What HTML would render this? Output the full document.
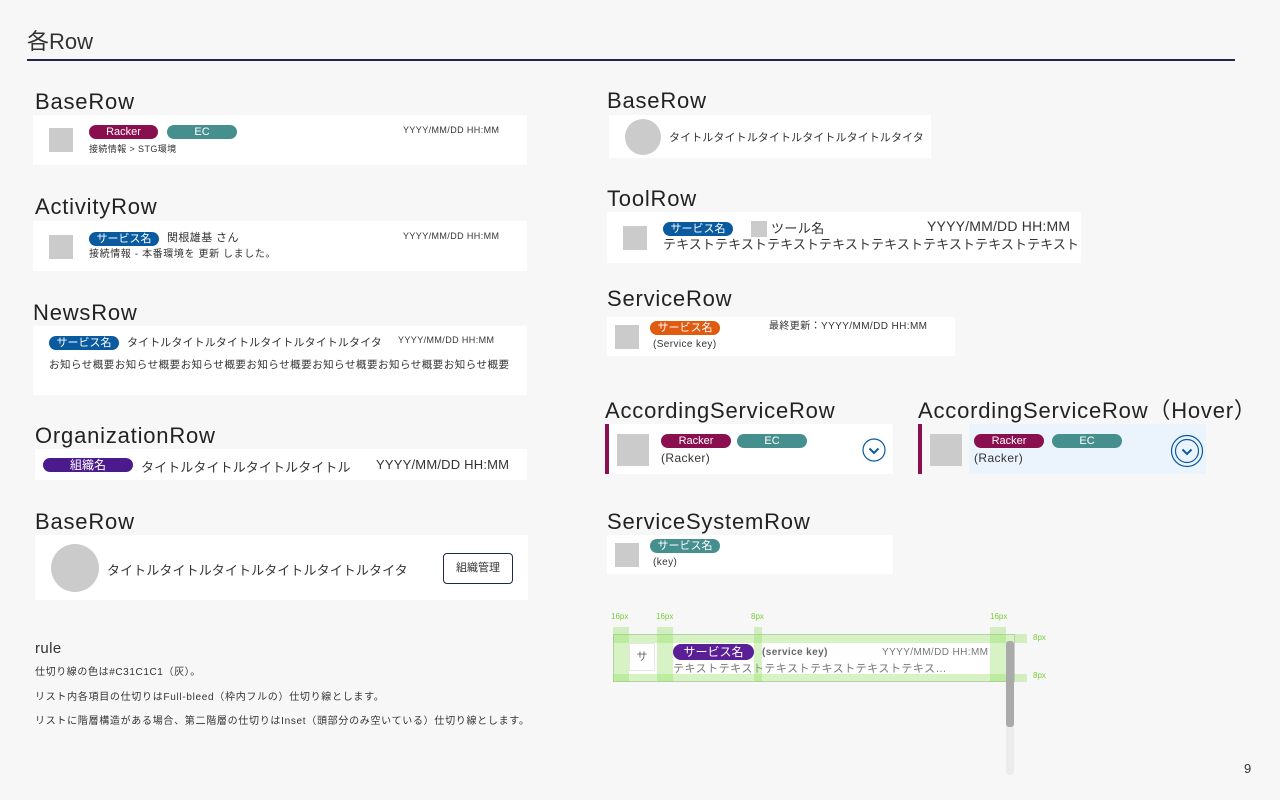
<!DOCTYPE html>
<html><head><meta charset="utf-8"><style>
*{margin:0;padding:0;box-sizing:border-box}
body{width:1280px;height:800px;background:#f7f7f7;position:relative;overflow:hidden;font-family:"Liberation Sans","Noto Sans CJK JP",sans-serif;color:#222}
.a{position:absolute;white-space:nowrap;line-height:1}
.w{position:absolute;background:#fff}
.g{position:absolute;background:#cbcbcb}
.h{position:absolute;font-size:22px;line-height:1;color:#222;letter-spacing:0.8px;white-space:nowrap}
.p{position:absolute;color:#fff;text-align:center;border-radius:8px;font-size:11px;line-height:14px;height:14px}
.t{position:absolute;white-space:nowrap;line-height:1;color:#333;letter-spacing:0.4px}
.gr{position:absolute;background:rgba(140,220,90,0.35)}
.gl{position:absolute;font-size:8px;color:#7acc3a;line-height:1}
</style></head><body>
<div class="a" style="left:27px;top:31px;font-size:22px;color:#333">各Row</div>
<div style="position:absolute;left:27px;top:59px;width:1208px;height:2px;background:#1f2a4a"></div>

<div class="h" style="left:35px;top:91px">BaseRow</div>
<div class="w" style="left:33px;top:115px;width:494px;height:50px"></div>
<div class="g" style="left:49px;top:128px;width:24px;height:24px"></div>
<div class="p" style="left:89px;top:125px;width:69px;background:#8a0f4e">Racker</div>
<div class="p" style="left:167px;top:125px;width:70px;background:#468f8f">EC</div>
<div class="t" style="left:403px;top:126px;font-size:9px">YYYY/MM/DD HH:MM</div>
<div class="t" style="left:89px;top:145px;font-size:9px">接続情報 &gt; STG環境</div>

<div class="h" style="left:35px;top:196px">ActivityRow</div>
<div class="w" style="left:33px;top:221px;width:494px;height:50px"></div>
<div class="g" style="left:49px;top:235px;width:24px;height:24px"></div>
<div class="p" style="left:89px;top:232px;width:70px;background:#0a5aa0">サービス名</div>
<div class="t" style="left:167px;top:233px;font-size:11px">関根雄基 さん</div>
<div class="t" style="left:403px;top:232px;font-size:9px">YYYY/MM/DD HH:MM</div>
<div class="t" style="left:89px;top:250px;font-size:10px;letter-spacing:0.6px">接続情報 - 本番環境を 更新 しました。</div>

<div class="h" style="left:33px;top:302px">NewsRow</div>
<div class="w" style="left:33px;top:326px;width:494px;height:69px"></div>
<div class="p" style="left:49px;top:336px;width:70px;background:#0a5aa0">サービス名</div>
<div class="t" style="left:127px;top:338px;font-size:11px;letter-spacing:0.1px">タイトルタイトルタイトルタイトルタイトルタイタ</div>
<div class="t" style="left:398px;top:336px;font-size:9px">YYYY/MM/DD HH:MM</div>
<div class="t" style="left:49px;top:360px;font-size:10.5px;letter-spacing:0.5px">お知らせ概要お知らせ概要お知らせ概要お知らせ概要お知らせ概要お知らせ概要お知らせ概要</div>

<div class="h" style="left:35px;top:425px">OrganizationRow</div>
<div class="w" style="left:35px;top:449px;width:492px;height:31px"></div>
<div class="p" style="left:43px;top:458px;width:90px;background:#4b1a8c;font-size:12px">組織名</div>
<div class="t" style="left:141px;top:461px;font-size:13px;letter-spacing:0.1px">タイトルタイトルタイトルタイトル</div>
<div class="t" style="left:376px;top:458px;font-size:13px;letter-spacing:0.2px">YYYY/MM/DD HH:MM</div>

<div class="h" style="left:35px;top:511px">BaseRow</div>
<div class="w" style="left:35px;top:535px;width:493px;height:65px"></div>
<div class="g" style="left:51px;top:544px;width:48px;height:48px;border-radius:50%"></div>
<div class="t" style="left:107px;top:564px;font-size:13px;letter-spacing:0.1px">タイトルタイトルタイトルタイトルタイトルタイタ</div>
<div style="position:absolute;left:443px;top:553px;width:70px;height:31px;border:1px solid #1f2a4a;border-radius:4px;font-size:11px;line-height:29px;text-align:center;color:#333">組織管理</div>

<div class="t" style="left:35px;top:641px;font-size:15px">rule</div>
<div class="t" style="left:35px;top:668px;font-size:10px;letter-spacing:0.6px">仕切り線の色は#C31C1C1（灰）。</div>
<div class="t" style="left:35px;top:693px;font-size:10px;letter-spacing:0.7px">リスト内各項目の仕切りはFull-bleed（枠内フルの）仕切り線とします。</div>
<div class="t" style="left:35px;top:717px;font-size:10px;letter-spacing:0.7px">リストに階層構造がある場合、第二階層の仕切りはInset（頭部分のみ空いている）仕切り線とします。</div>

<div class="h" style="left:607px;top:90px">BaseRow</div>
<div class="w" style="left:609px;top:115px;width:322px;height:43px"></div>
<div class="g" style="left:625px;top:119px;width:36px;height:36px;border-radius:50%"></div>
<div class="t" style="left:669px;top:133px;font-size:11px;letter-spacing:0.1px">タイトルタイトルタイトルタイトルタイトルタイタ</div>

<div class="h" style="left:607px;top:188px">ToolRow</div>
<div class="w" style="left:607px;top:212px;width:474px;height:51px"></div>
<div class="g" style="left:623px;top:226px;width:24px;height:24px"></div>
<div class="p" style="left:663px;top:222px;width:70px;background:#0a5aa0">サービス名</div>
<div class="g" style="left:751px;top:221px;width:16px;height:16px"></div>
<div class="t" style="left:771px;top:222px;font-size:13px">ツール名</div>
<div class="t" style="left:927px;top:219px;font-size:14px;letter-spacing:0.2px">YYYY/MM/DD HH:MM</div>
<div class="t" style="left:663px;top:238px;font-size:13px;letter-spacing:0.1px">テキストテキストテキストテキストテキストテキストテキストテキスト</div>

<div class="h" style="left:607px;top:288px">ServiceRow</div>
<div class="w" style="left:607px;top:317px;width:348px;height:39px"></div>
<div class="g" style="left:615px;top:325px;width:24px;height:24px"></div>
<div class="p" style="left:650px;top:321px;width:70px;background:#e05a10">サービス名</div>
<div class="t" style="left:769px;top:322px;font-size:10px">最終更新：YYYY/MM/DD HH:MM</div>
<div class="t" style="left:653px;top:340px;font-size:10px">(Service key)</div>

<div class="h" style="left:605px;top:400px">AccordingServiceRow</div>
<div class="w" style="left:605px;top:424px;width:288px;height:50px"></div>
<div style="position:absolute;left:605px;top:424px;width:4px;height:50px;background:#8a0f4e"></div>
<div class="g" style="left:617px;top:434px;width:32px;height:32px"></div>
<div class="p" style="left:661px;top:434px;width:70px;height:14px;background:#8a0f4e">Racker</div>
<div class="p" style="left:737px;top:434px;width:70px;height:14px;background:#468f8f">EC</div>
<div class="t" style="left:661px;top:452px;font-size:12px">(Racker)</div>
<svg style="position:absolute;left:861px;top:438px" width="26" height="26"><circle cx="13" cy="12" r="11" fill="#fff" stroke="#0a5aa0" stroke-width="1.2"/><path d="M8.5 10.5 L13 15 L17.5 10.5" fill="none" stroke="#0a5aa0" stroke-width="2"/></svg>

<div class="h" style="left:918px;top:400px">AccordingServiceRow（Hover）</div>
<div style="position:absolute;left:918px;top:424px;width:4px;height:50px;background:#8a0f4e"></div>
<div style="position:absolute;left:969px;top:424px;width:237px;height:50px;background:#ebf3fc"></div>
<div class="g" style="left:930px;top:434px;width:32px;height:32px"></div>
<div class="p" style="left:974px;top:434px;width:70px;background:#8a0f4e">Racker</div>
<div class="p" style="left:1052px;top:434px;width:70px;background:#468f8f">EC</div>
<div class="t" style="left:974px;top:452px;font-size:12px">(Racker)</div>
<svg style="position:absolute;left:1170px;top:434px" width="34" height="34"><circle cx="17" cy="17" r="15.5" fill="none" stroke="#0a5aa0" stroke-width="1.2"/><circle cx="17" cy="17" r="11.5" fill="none" stroke="#0a5aa0" stroke-width="1.2"/><path d="M12.5 15.5 L17 20 L21.5 15.5" fill="none" stroke="#0a5aa0" stroke-width="2"/></svg>

<div class="h" style="left:607px;top:511px">ServiceSystemRow</div>
<div class="w" style="left:607px;top:535px;width:286px;height:39px"></div>
<div class="g" style="left:615px;top:543px;width:24px;height:24px"></div>
<div class="p" style="left:650px;top:539px;width:70px;background:#468f8f">サービス名</div>
<div class="t" style="left:653px;top:558px;font-size:10px">(key)</div>

<div class="gl" style="left:611px;top:613px">16px</div>
<div class="gl" style="left:656px;top:613px">16px</div>
<div class="gl" style="left:751px;top:613px">8px</div>
<div class="gl" style="left:990px;top:613px">16px</div>
<div class="gl" style="left:1033px;top:634px">8px</div>
<div class="gl" style="left:1033px;top:672px">8px</div>
<div class="w" style="left:613px;top:634px;width:402px;height:48px;border:1px solid #ccc"></div>
<div style="position:absolute;left:629px;top:643px;width:26px;height:28px;background:#fff;border:1px solid #e6e6e6;font-size:11px;color:#666;text-align:center;line-height:26px">サ</div>
<div class="p" style="left:673px;top:644px;width:81px;height:16px;line-height:16px;font-size:12px;background:#5a1f96">サービス名</div>
<div class="t" style="left:762px;top:648px;font-size:10px;font-weight:bold;color:#666">(service key)</div>
<div class="t" style="left:882px;top:648px;font-size:10px;color:#777">YYYY/MM/DD HH:MM</div>
<div class="t" style="left:673px;top:664px;font-size:11px;color:#777;letter-spacing:0.5px">テキストテキストテキストテキストテキストテキス…</div>
<div class="gr" style="left:613px;top:634px;width:414px;height:9px"></div>
<div class="gr" style="left:613px;top:674px;width:414px;height:8px"></div>
<div class="gr" style="left:613px;top:627px;width:16px;height:55px"></div>
<div class="gr" style="left:657px;top:627px;width:16px;height:55px"></div>
<div class="gr" style="left:754px;top:627px;width:8px;height:55px"></div>
<div class="gr" style="left:990px;top:627px;width:16px;height:55px"></div>
<div style="position:absolute;left:1006px;top:641px;width:8px;height:134px;background:#ececec;border-radius:3px"></div>
<div style="position:absolute;left:1006px;top:641px;width:8px;height:86px;background:#aaa;border-radius:3px"></div>

<div class="t" style="left:1244px;top:762px;font-size:13px">9</div>
</body></html>
